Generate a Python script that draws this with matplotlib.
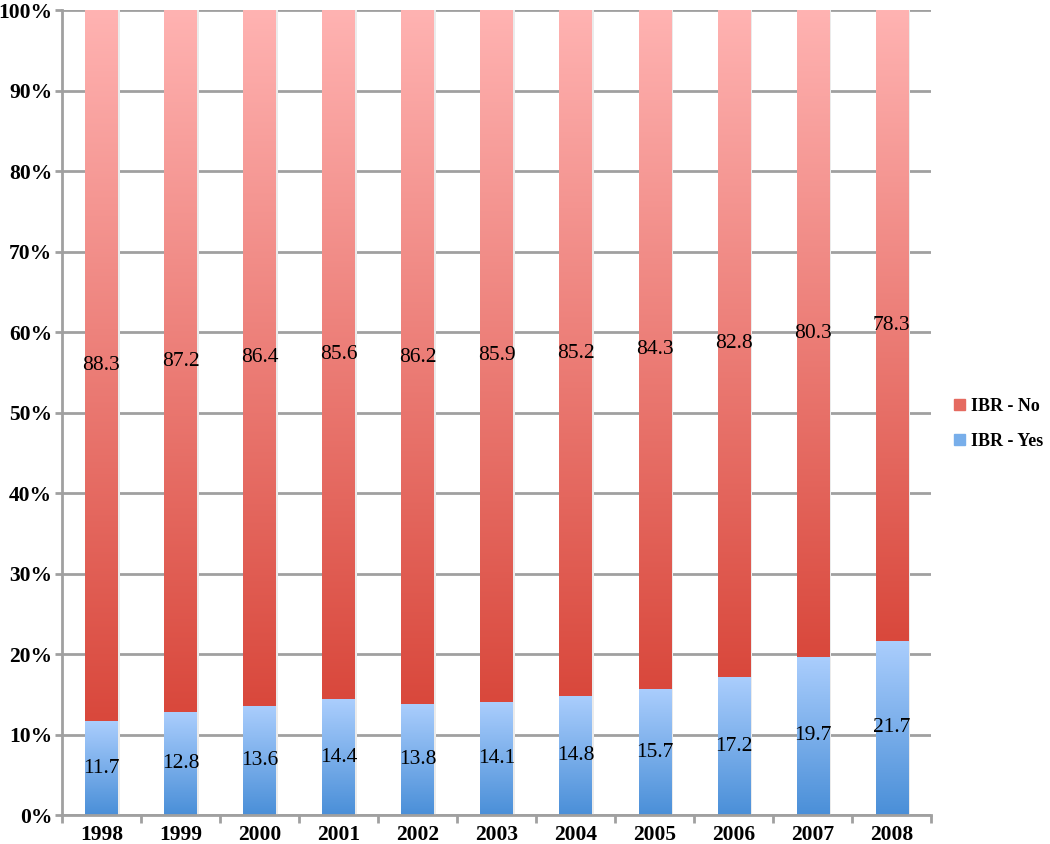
import numpy as np
import matplotlib
matplotlib.use("Agg")
import matplotlib.pyplot as plt
from matplotlib.colors import LinearSegmentedColormap
from matplotlib.patches import Patch

# data
years = ["1998", "1999", "2000", "2001", "2002", "2003", "2004", "2005", "2006", "2007", "2008"]
ibr_yes = [11.7, 12.8, 13.6, 14.4, 13.8, 14.1, 14.8, 15.7, 17.2, 19.7, 21.7]
ibr_no = [88.3, 87.2, 86.4, 85.6, 86.2, 85.9, 85.2, 84.3, 82.8, 80.3, 78.3]
yticks = [0, 10, 20, 30, 40, 50, 60, 70, 80, 90, 100]

plt.rcParams["font.family"] = ["Liberation Serif", "DejaVu Serif"]

blue_cmap = LinearSegmentedColormap.from_list("b", ["#4a8fd8", "#abcefd"])
red_cmap = LinearSegmentedColormap.from_list("r", ["#d9483c", "#ffb3b2"])
grad = np.linspace(0, 1, 256).reshape(-1, 1)

fig = plt.figure(figsize=(10.5, 8.44), dpi=100)
ax = fig.add_axes([0.059, 0.034, 0.828, 0.954])

x = np.arange(len(years))
w = 0.41
for i, (yv, nv) in enumerate(zip(ibr_yes, ibr_no)):
    # faint shadow
    ax.bar(x[i] + 0.03, yv + nv, w, color="#ebebeb", zorder=1.5)
    ax.imshow(grad, cmap=blue_cmap, origin="lower", aspect="auto",
              extent=(x[i] - w / 2, x[i] + w / 2, 0, yv), zorder=2)
    ax.imshow(grad, cmap=red_cmap, origin="lower", aspect="auto",
              extent=(x[i] - w / 2, x[i] + w / 2, yv, yv + nv), zorder=2)
    ax.text(x[i], yv / 2, f"{yv:.1f}", ha="center", va="center", fontsize=15.5, zorder=3)
    ax.text(x[i], yv + nv / 2, f"{nv:.1f}", ha="center", va="center", fontsize=15.5, zorder=3)

ax.set_xlim(-0.5, len(years) - 0.5)
ax.set_ylim(0, 100)
ax.set_yticks(yticks)
ax.set_yticklabels([f"{t}%" for t in yticks], fontsize=15.5, fontweight="bold")
ax.set_xticks(x)
ax.set_xticklabels(years, fontsize=15.5, fontweight="bold")
ax.tick_params(axis="x", length=0, pad=7)
ax.set_xticks(np.arange(-0.5, len(years), 1), minor=True)
ax.tick_params(axis="x", which="minor", length=6, width=2, color="#a0a0a0", direction="out")
ax.tick_params(axis="y", length=5, width=2, color="#a0a0a0", pad=2)

ax.grid(axis="y", color="#a0a0a0", linewidth=2)
ax.set_axisbelow(True)
for s in ["top", "right"]:
    ax.spines[s].set_visible(False)
for s in ["left", "bottom"]:
    ax.spines[s].set_color("#a0a0a0")
    ax.spines[s].set_linewidth(2)

handles = [Patch(color="#e56a60", label="IBR - No"), Patch(color="#78aeea", label="IBR - Yes")]
fig.legend(handles=handles, loc="center left", bbox_to_anchor=(0.909, 0.498),
           frameon=False, prop={"weight": "bold", "size": 13}, borderpad=0, borderaxespad=0,
           handlelength=0.6, handleheight=0.6, handletextpad=0.3, labelspacing=1.0)

fig.savefig("out.png", dpi=100)
